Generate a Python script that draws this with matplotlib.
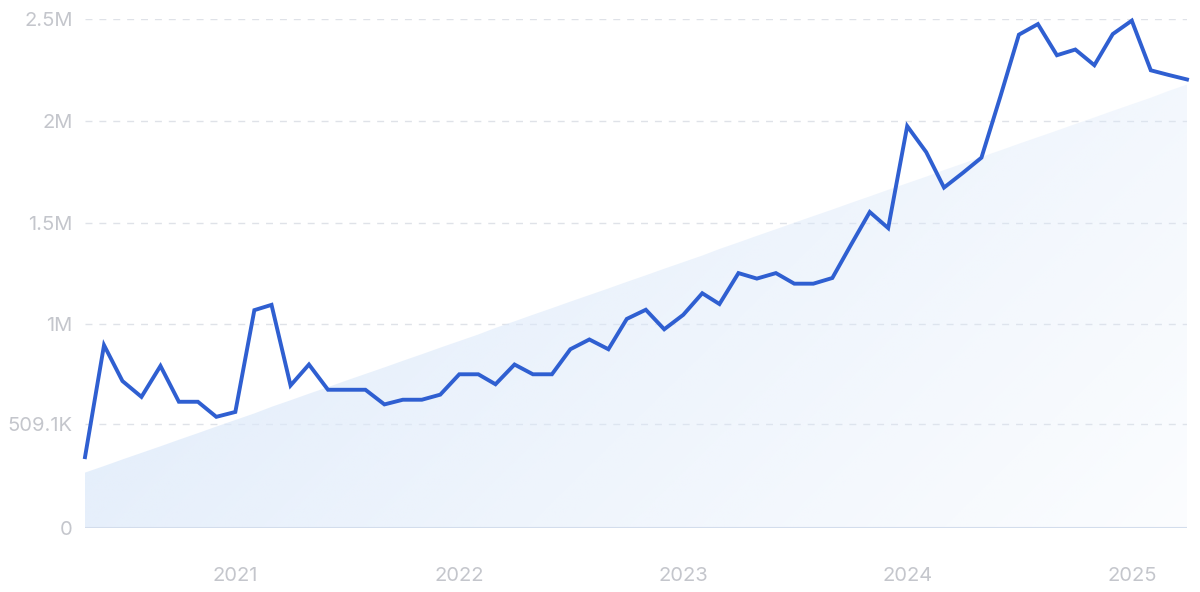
import numpy as np
import pandas as pd
import matplotlib
matplotlib.use("Agg")
import matplotlib.pyplot as plt
import matplotlib.dates as mdates
from matplotlib.ticker import FixedLocator

# monthly values, May 2020 .. Apr 2025
start_month = "2020-05-01"
values = [0.348, 0.898, 0.722, 0.644, 0.796, 0.620, 0.620, 0.546, 0.570, 1.070,
          1.096, 0.700, 0.803, 0.679, 0.679, 0.679, 0.607, 0.630, 0.630, 0.655,
          0.755, 0.755, 0.706, 0.803, 0.755, 0.755, 0.878, 0.926, 0.878, 1.027,
          1.072, 0.976, 1.047, 1.153, 1.100, 1.252, 1.225, 1.252, 1.200, 1.200,
          1.228, 1.389, 1.552, 1.473, 1.974, 1.846, 1.672, 1.745, 1.819, 2.121,
          2.423, 2.475, 2.322, 2.350, 2.273, 2.426, 2.492, 2.248, 2.226, 2.203]
values = np.array(values) * 1e6
trend_start, trend_end = 0.272e6, 2.178e6

ytick_vals = [0, 509100, 1e6, 1.5e6, 2e6, 2.5e6]
ytick_labels = ["0", "509.1K", "1M", "1.5M", "2M", "2.5M"]
xtick_years = [2021, 2022, 2023, 2024, 2025]

dates = pd.date_range(start_month, periods=len(values), freq="MS")
x = mdates.date2num(dates)
trend = np.linspace(trend_start, trend_end, len(values))

plt.rcParams["font.family"] = ["Inter", "DejaVu Sans"]
fig = plt.figure(figsize=(12, 5.92), dpi=100)
ax = fig.add_axes([85 / 1200, 64 / 592, 1102 / 1200, 509 / 592])
ax.set_xlim(x[0], x[-1])
ax.set_ylim(0, 2.5e6)

# gradient trend area
poly = ax.fill_between(x, 0, trend, color="none", lw=0)
h, w = 200, 400
gx = np.linspace(0, 1, w)[None, :]
gy = np.linspace(1, 0, h)[:, None]
t = np.clip(0.75 * gx + 0.35 * (1 - gy) - 0.1, 0, 1)
rgba = np.zeros((h, w, 4))
rgba[..., 0] = 220 / 255
rgba[..., 1] = 233 / 255
rgba[..., 2] = 250 / 255
rgba[..., 3] = 0.9 - 0.8 * t
im = ax.imshow(rgba, extent=[x[0], x[-1], 0, 2.5e6], aspect="auto",
               origin="upper", zorder=1)
path = poly.get_paths()[0]
im.set_clip_path(path, transform=ax.transData)

for yv in ytick_vals[1:]:
    ax.axhline(yv, color="#dfe2e8", lw=1, ls=(0, (5, 5)), zorder=0.5)
ax.axhline(0, color="#d3ddec", lw=1.5, zorder=2)

ax.plot(x, values, color="#2f5fd1", lw=2.8, solid_joinstyle="miter",
        zorder=3, clip_on=False)

for s in ax.spines.values():
    s.set_visible(False)
ax.yaxis.set_major_locator(FixedLocator(ytick_vals))
ax.set_yticklabels(ytick_labels)
xt = [mdates.date2num(pd.Timestamp(f"{y}-01-01")) for y in xtick_years]
ax.set_xticks(xt)
ax.set_xticklabels([str(y) for y in xtick_years])
ax.tick_params(axis="both", length=0, labelsize=14.5, labelcolor="#c4c6cc")
ax.tick_params(axis="y", pad=9)
ax.tick_params(axis="x", pad=28)

fig.savefig("out.png", dpi=100)
